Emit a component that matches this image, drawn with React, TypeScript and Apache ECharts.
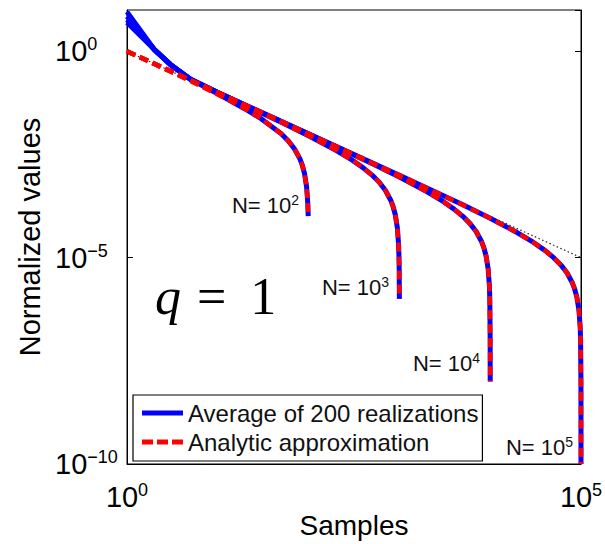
import React, { useEffect, useRef } from "react";
import * as echarts from "echarts";

// ---- data ----
const xTickLabels = ["10^0", "10^5"];
const yTickLabels = ["10^0", "10^-5", "10^-10"];
const nLabels = ["N= 10^2", "N= 10^3", "N= 10^4", "N= 10^5"];

// Analytic approximation curves: [samples, value]
const redN2: number[][] = [
  [1, 0.99], [1.5, 0.657], [2, 0.49], [3, 0.323], [5, 0.19], [10, 0.09], [20, 0.04], [30, 0.0233],
  [50, 0.01], [60, 0.00667], [70, 0.00429], [80, 0.0025], [85, 0.00176], [90, 0.00111],
  [95, 0.000526], [98, 0.000204], [99, 0.000101],
];
const redN3: number[][] = [
  [1, 0.999], [2, 0.499], [5, 0.199], [10, 0.099], [20, 0.049], [50, 0.019], [100, 0.009],
  [200, 0.004], [300, 0.00233], [400, 0.0015], [500, 0.001], [600, 0.000667], [700, 0.000429],
  [800, 0.00025], [850, 0.000176], [900, 0.000111], [950, 5.26e-5], [980, 2.04e-5],
  [990, 1.01e-5], [995, 5.0e-6], [999, 1.0e-6],
];
const redN4: number[][] = [
  [1, 1.0], [10, 0.0999], [100, 0.0099], [500, 0.0019], [1000, 0.0009], [2000, 0.0004],
  [3000, 0.000233], [4000, 0.00015], [5000, 0.0001], [6000, 6.67e-5], [7000, 4.29e-5],
  [8000, 2.5e-5], [8500, 1.76e-5], [9000, 1.11e-5], [9500, 5.26e-6], [9800, 2.04e-6],
  [9900, 1.01e-6], [9990, 1.0e-7], [9999, 1.0e-8],
];
const redN5: number[][] = [
  [1, 1.0], [10, 0.1], [100, 0.00999], [1000, 0.00099], [5000, 0.00019], [10000, 9.0e-5],
  [20000, 4.0e-5], [30000, 2.33e-5], [40000, 1.5e-5], [50000, 1.0e-5], [60000, 6.67e-6],
  [70000, 4.29e-6], [80000, 2.5e-6], [85000, 1.76e-6], [90000, 1.11e-6], [95000, 5.26e-7],
  [98000, 2.04e-7], [99000, 1.01e-7], [99900, 1.0e-8], [99990, 1.0e-9], [99999, 1.0e-10],
];

// Average of 200 realizations (blue), differs at the first few samples
const blueN2: number[][] = [
  [1, 9.0], [2, 1.1], [3, 0.48], [5, 0.21], [10, 0.093], [20, 0.04], [30, 0.0233], [50, 0.01],
  [60, 0.00667], [70, 0.00429], [80, 0.0025], [85, 0.00176], [90, 0.00111], [95, 0.000526],
  [98, 0.000204], [99, 0.000101],
];
const blueN3: number[][] = [
  [1, 7.0], [2, 1.1], [3, 0.48], [5, 0.21], [10, 0.1], [20, 0.049], [50, 0.019], [100, 0.009],
  [200, 0.004], [300, 0.00233], [400, 0.0015], [500, 0.001], [600, 0.000667], [700, 0.000429],
  [800, 0.00025], [850, 0.000176], [900, 0.000111], [950, 5.26e-5], [980, 2.04e-5],
  [990, 1.01e-5], [995, 5.0e-6], [999, 1.0e-6],
];
const blueN4: number[][] = [
  [1, 5.8], [2, 1.1], [3, 0.48], [5, 0.21], [10, 0.1], [100, 0.0099], [500, 0.0019],
  [1000, 0.0009], [2000, 0.0004], [3000, 0.000233], [4000, 0.00015], [5000, 0.0001],
  [6000, 6.67e-5], [7000, 4.29e-5], [8000, 2.5e-5], [8500, 1.76e-5], [9000, 1.11e-5],
  [9500, 5.26e-6], [9800, 2.04e-6], [9900, 1.01e-6], [9990, 1.0e-7], [9999, 1.0e-8],
];
const blueN5: number[][] = [
  [1, 5.0], [2, 1.1], [3, 0.48], [5, 0.21], [10, 0.1], [100, 0.00999], [1000, 0.00099],
  [5000, 0.00019], [10000, 9.0e-5], [20000, 4.0e-5], [30000, 2.33e-5], [40000, 1.5e-5],
  [50000, 1.0e-5], [60000, 6.67e-6], [70000, 4.29e-6], [80000, 2.5e-6], [85000, 1.76e-6],
  [90000, 1.11e-6], [95000, 5.26e-7], [98000, 2.04e-7], [99000, 1.01e-7], [99900, 1.0e-8],
  [99990, 1.0e-9], [99999, 1.0e-10],
];

// dotted 1/n reference line
const refLine: number[][] = [[1, 1], [100000, 1.0e-5]];

const BLUE_NAME = "Average of 200 realizations";
const RED_NAME = "Analytic approximation";

const SANS = "'Liberation Sans', Arial, Helvetica, sans-serif";
const SERIF = "'Liberation Serif', 'Times New Roman', serif";

function powLabel(s: string): string {
  const [base, exp] = s.split("^");
  return `{b|${base}}{s|${exp.replace("-", "\u2212")}}`;
}

export default function App() {
  const ref = useRef<HTMLDivElement>(null);

  useEffect(() => {
    if (!ref.current) return;
    const chart = echarts.init(ref.current, null, { renderer: "svg" });

    const tickRich = {
      b: { fontSize: 29, lineHeight: 32, fontFamily: SANS, color: "#000" },
      s: { fontSize: 18, lineHeight: 18, verticalAlign: "top", fontFamily: SANS, color: "#000" },
    };

    const labelFor = (list: string[]) => (v: number) => {
      const e = Math.round(Math.log10(v));
      const found = list.find((t) => t === `10^${e}`);
      return found ? powLabel(found) : "";
    };

    const blueSeries = [blueN2, blueN3, blueN4, blueN5].map((d) => ({
      type: "line",
      name: BLUE_NAME,
      data: d,
      symbol: "none",
      color: "#0000ff",
      lineStyle: { color: "#0000ff", width: 5 },
      z: 3,
      silent: true,
    }));
    const redSeries = [redN2, redN3, redN4, redN5].map((d) => ({
      type: "line",
      name: RED_NAME,
      data: d,
      symbol: "none",
      color: "#ff0000",
      lineStyle: { color: "#ff0000", width: 4.5, type: [9, 5] },
      z: 4,
      silent: true,
    }));

    const nLabelPos = [
      { x: 299, y: 205 },
      { x: 389, y: 287 },
      { x: 480, y: 363 },
      { x: 573, y: 447 },
    ];

    chart.setOption({
      animation: false,
      backgroundColor: "#fff",
      grid: {
        left: 127,
        right: 24,
        top: 10,
        bottom: 80,
        containLabel: false,
        outerBoundsMode: "none",
        show: true,
        borderColor: "#000",
        borderWidth: 1,
        backgroundColor: "transparent",
      },
      legend: {
        orient: "vertical",
        left: 133,
        top: 395,
        padding: [6, 4, 7, 9],
        itemGap: 5,
        itemWidth: 41,
        itemHeight: 5,
        borderColor: "#000",
        borderWidth: 1.2,
        backgroundColor: "#fff",
        selectedMode: false,
        textStyle: { fontSize: 24, fontFamily: SANS, color: "#111" },
        data: [
          { name: BLUE_NAME, icon: "rect" },
          { name: RED_NAME, icon: "path://M0,0h11v5h-11z M15,0h11v5h-11z M30,0h11v5h-11z" },
        ],
      },
      xAxis: {
        type: "log",
        logBase: 10,
        min: 1,
        max: 100000,
        interval: 5,
        name: "Samples",
        nameLocation: "middle",
        nameGap: 47,
        nameMoveOverlap: false,
        nameTextStyle: { fontSize: 28, fontFamily: SANS, color: "#000" },
        axisLine: { show: true, lineStyle: { color: "#000", width: 1 } },
        axisTick: { show: true, inside: true, length: 6, lineStyle: { color: "#000" } },
        minorTick: { show: false },
        splitLine: { show: false },
        axisLabel: {
          margin: 17,
          formatter: labelFor(xTickLabels),
          rich: tickRich,
        },
      },
      yAxis: [
        {
          type: "log",
          logBase: 10,
          min: 1e-10,
          max: 10,
          interval: 5,
          name: "Normalized values",
          nameLocation: "middle",
          nameRotate: 90,
          nameGap: 83,
          nameMoveOverlap: false,
          nameTextStyle: { fontSize: 29, fontFamily: SANS, color: "#000" },
          axisLine: { show: true, lineStyle: { color: "#000", width: 1 } },
          axisTick: { show: true, inside: true, length: 6, lineStyle: { color: "#000" } },
          splitLine: { show: false },
          axisLabel: {
            align: "left",
            margin: 72,
            showMaxLabel: false,
            formatter: labelFor(yTickLabels),
            rich: tickRich,
          },
        },
        {
          type: "log",
          logBase: 10,
          min: 1e-10,
          max: 10,
          interval: 5,
          position: "right",
          axisLine: { show: true, lineStyle: { color: "#000", width: 1 } },
          axisTick: { show: true, inside: true, length: 6, lineStyle: { color: "#000" } },
          axisLabel: { show: false },
          splitLine: { show: false },
        },
      ],
      series: [
        {
          type: "line",
          name: "1/n",
          data: refLine,
          symbol: "none",
          color: "#222",
          lineStyle: { color: "#222", width: 1.2, type: [1.5, 2.5] },
          z: 2,
          silent: true,
        },
        ...blueSeries,
        ...redSeries,
      ],
      graphic: [
        ...nLabels.map((t, i) => ({
          type: "text",
          x: nLabelPos[i].x,
          y: nLabelPos[i].y,
          z: 10,
          style: {
            text: (() => {
              const [a, e] = t.split("^");
              return `{a|${a}}{s|${e}}`;
            })(),
            align: "right",
            verticalAlign: "middle",
            rich: {
              a: { fontSize: 22, lineHeight: 25, fontFamily: SANS, fill: "#111" },
              s: { fontSize: 14, lineHeight: 14, verticalAlign: "top", fontFamily: SANS, fill: "#111" },
            },
          },
        })),
        {
          type: "text",
          x: 155,
          y: 296,
          z: 10,
          style: {
            text: "{q|q}{e|=}{o|1}",
            align: "left",
            verticalAlign: "middle",
            rich: {
              q: { fontSize: 52, fontStyle: "italic", fontFamily: SERIF, fill: "#000" },
              e: { fontSize: 52, fontFamily: SERIF, fill: "#000", padding: [0, 0, 0, 16] },
              o: { fontSize: 52, fontFamily: SERIF, fill: "#000", padding: [0, 0, 0, 24] },
            },
          },
        },
      ],
    });

    return () => chart.dispose();
  }, []);

  return (
    <div
      ref={ref}
      style={{ position: "absolute", left: 0, top: 0, width: 605, height: 544 }}
    />
  );
}
